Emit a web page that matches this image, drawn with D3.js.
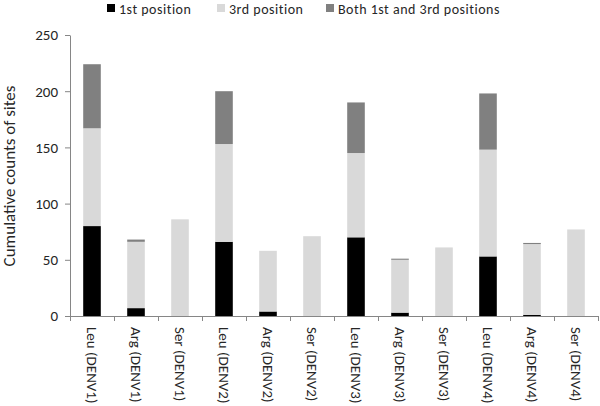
<!DOCTYPE html>
<html>
<head>
<meta charset="utf-8">
<script src="https://cdn.jsdelivr.net/npm/d3@7"></script>
<style>
  body { margin: 0; background: #fff; }
  text { font-family: Carlito, Lato, "Open Sans", sans-serif; fill: #262626; }
</style>
</head>
<body>
<div class="chart"></div>
<script>
var w = 600,
  h = 406,
  margin = { top: 35, right: 2, bottom: 90, left: 70 };

// categories and stacked values
var categories = ['Leu (DENV1)', 'Arg (DENV1)', 'Ser (DENV1)', 'Leu (DENV2)', 'Arg (DENV2)', 'Ser (DENV2)',
  'Leu (DENV3)', 'Arg (DENV3)', 'Ser (DENV3)', 'Leu (DENV4)', 'Arg (DENV4)', 'Ser (DENV4)'];
var first = [80, 7, 0, 66, 4, 0, 70, 3, 0, 53, 1, 0];
var third = [87, 59, 86, 87, 54, 71, 75, 47, 61, 95, 63, 77];
var both = [57, 2, 0, 47, 0, 0, 45, 1, 0, 50, 1, 0];
var seriesNames = ['1st position', '3rd position', 'Both 1st and 3rd positions'];
var seriesColors = ['#000000', '#d9d9d9', '#808080'];
var yTicks = [0, 50, 100, 150, 200, 250];

var rows = categories.map(function (c, i) {
  return { cat: c, first: first[i], third: third[i], both: both[i] };
});
var stack = d3.stack().keys(['first', 'third', 'both'])(rows);

var svg = d3.select('.chart')
  .append('svg')
  .attr('width', w)
  .attr('height', h);

var x = d3.scaleBand()
  .domain(categories)
  .range([margin.left, w - margin.right])
  .paddingInner(0.6)
  .paddingOuter(0.3);

var y = d3.scaleLinear()
  .domain([0, 250])
  .range([h - margin.bottom, margin.top]);

// bars
svg.selectAll('g.layer')
  .data(stack)
  .enter()
  .append('g')
  .attr('class', 'layer')
  .attr('fill', function (d, i) { return seriesColors[i]; })
  .selectAll('rect')
  .data(function (d) { return d; })
  .enter()
  .append('rect')
  .attr('x', function (d) { return x(d.data.cat); })
  .attr('width', x.bandwidth())
  .attr('y', function (d) { return y(d[1]); })
  .attr('height', function (d) { return y(d[0]) - y(d[1]); });

// y axis
var yAxis = svg.append('g')
  .attr('transform', 'translate(' + margin.left + ',0)')
  .call(d3.axisLeft(y).tickValues(yTicks).tickSize(5).tickSizeOuter(0));
yAxis.select('.domain').attr('stroke', '#868686');
yAxis.selectAll('.tick line').attr('stroke', '#868686');
yAxis.selectAll('.tick text')
  .attr('x', -12)
  .style('font-size', '15px');

// x axis, ticks on band boundaries
var xBase = y(0);
svg.append('line')
  .attr('x1', margin.left).attr('x2', w - margin.right)
  .attr('y1', xBase + 0.5).attr('y2', xBase + 0.5)
  .attr('stroke', '#868686');
var bounds = d3.range(categories.length + 1).map(function (i) {
  return margin.left + i * (w - margin.right - margin.left) / categories.length;
});
svg.selectAll('line.xtick')
  .data(bounds)
  .enter()
  .append('line')
  .attr('class', 'xtick')
  .attr('x1', function (d) { return Math.round(d) + 0.5; })
  .attr('x2', function (d) { return Math.round(d) + 0.5; })
  .attr('y1', xBase)
  .attr('y2', xBase + 5)
  .attr('stroke', '#868686');

svg.selectAll('text.xlab')
  .data(categories)
  .enter()
  .append('text')
  .attr('class', 'xlab')
  .attr('transform', function (d) {
    return 'translate(' + (x(d) + x.bandwidth() / 2 - 5) + ',' + (xBase + 11) + ') rotate(90)';
  })
  .style('font-size', '15px')
  .text(function (d) { return d; });

// y title
svg.append('text')
  .attr('transform', 'translate(15,' + 176 + ') rotate(-90)')
  .attr('text-anchor', 'middle')
  .style('font-size', '17px')
  .text('Cumulative counts of sites');

// legend
var legendX = [107, 217, 326];
var legend = svg.selectAll('g.legend')
  .data(seriesNames)
  .enter()
  .append('g')
  .attr('class', 'legend')
  .attr('transform', function (d, i) { return 'translate(' + legendX[i] + ',4)'; });
legend.append('rect')
  .attr('width', 8).attr('height', 8)
  .attr('fill', function (d, i) { return seriesColors[i]; });
legend.append('text')
  .attr('x', 12).attr('y', 10)
  .style('font-size', '14px')
  .style('letter-spacing', '0.5px')
  .text(function (d) { return d; });
</script>
</body>
</html>
